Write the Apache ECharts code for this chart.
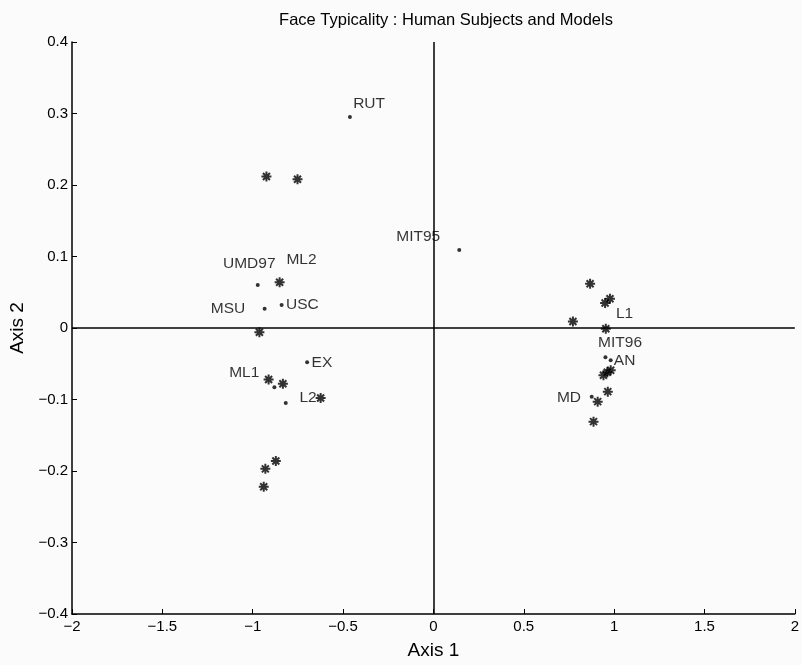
<!DOCTYPE html>
<html>
<head>
<meta charset="utf-8">
<script src="https://cdn.jsdelivr.net/npm/echarts@6/dist/echarts.min.js"></script>
<style>
html,body{margin:0;padding:0;background:#fbfbfb;}
#chart{width:802px;height:665px;}
</style>
</head>
<body>
<div id="chart"></div>
<script>
// Asterisk markers (models / subjects)
const starPoints = [
  [-0.924, 0.212], [-0.752, 0.208], [-0.851, 0.064], [-0.963, -0.006],
  [-0.912, -0.072], [-0.833, -0.078], [-0.624, -0.098], [-0.872, -0.186],
  [-0.930, -0.197], [-0.939, -0.222],
  [0.867, 0.062], [0.977, 0.041], [0.950, 0.035], [0.772, 0.009],
  [0.954, -0.001], [0.941, -0.066], [0.962, -0.062], [0.981, -0.059],
  [0.965, -0.089], [0.909, -0.103], [0.886, -0.131]
];
// Dot markers (algorithms)
const dotPoints = [
  [-0.972, 0.060], [-0.934, 0.027], [-0.840, 0.032], [-0.699, -0.048],
  [-0.880, -0.083], [-0.817, -0.105], [-0.462, 0.295], [0.143, 0.109],
  [0.952, -0.041], [0.981, -0.045], [0.876, -0.096]
];
// Text annotations
const labelNames = ['RUT','MIT95','UMD97','ML2','MSU','USC','EX','ML1','L2','L1','MIT96','AN','MD'];
const labelX = [-0.356, -0.084, -1.019, -0.730, -1.137, -0.725, -0.617, -1.047, -0.694, 1.058, 1.033, 1.058, 0.750];
const labelY = [0.314, 0.128, 0.090, 0.096, 0.027, 0.032, -0.048, -0.063, -0.097, 0.020, -0.021, -0.046, -0.098];

const titleText = 'Face Typicality : Human Subjects and Models';
const xName = 'Axis 1';
const yName = 'Axis 2';

const fontFam = '"Liberation Sans", Arial, Helvetica, sans-serif';
const minusFmt = v => {
  const s = String(Math.round(v * 100) / 100);
  return s.replace('-', '\u2212');
};

const chart = echarts.init(document.getElementById('chart'), null, {renderer: 'canvas'});
const labelData = labelNames.map((n, i) => ({name: n, value: [labelX[i], labelY[i]]}));

chart.setOption({
  backgroundColor: '#fbfbfb',
  animation: false,
  title: {
    text: titleText, left: 441, top: 7, textAlign: 'center',
    textStyle: {fontFamily: fontFam, fontSize: 16.5, fontWeight: 'normal', color: '#000'}
  },
  grid: {left: 72, right: 3, top: 42, bottom: 49},
  xAxis: {
    type: 'value', min: -2, max: 2, interval: 0.5,
    name: xName, nameLocation: 'middle', nameGap: 27,
    nameTextStyle: {fontFamily: fontFam, fontSize: 19, color: '#000'},
    axisLine: {onZero: false, lineStyle: {color: '#000', width: 1.5}},
    axisTick: {inside: true, length: 5, lineStyle: {color: '#000', width: 1}},
    axisLabel: {fontFamily: fontFam, fontSize: 15, color: '#000', margin: 5, formatter: minusFmt},
    splitLine: {show: false}
  },
  yAxis: {
    type: 'value', min: -0.4, max: 0.4, interval: 0.1,
    name: yName, nameLocation: 'middle', nameGap: 43, nameRotate: 90,
    nameTextStyle: {fontFamily: fontFam, fontSize: 19, color: '#000'},
    axisLine: {onZero: false, lineStyle: {color: '#000', width: 1.5}},
    axisTick: {inside: true, length: 5, lineStyle: {color: '#000', width: 1}},
    axisLabel: {fontFamily: fontFam, fontSize: 15, color: '#000', margin: 4, formatter: minusFmt},
    splitLine: {show: false}
  },
  series: [
    {
      type: 'scatter', name: 'cross', data: [],
      markLine: {
        silent: true, symbol: ['none', 'none'], label: {show: false},
        lineStyle: {color: '#000', width: 1.5, type: 'solid'},
        data: [{xAxis: 0}, {yAxis: 0}]
      }
    },
    {
      type: 'scatter', name: 'stars', data: starPoints,
      symbol: 'path://M5,0L5,10M0,5L10,5M1.5,1.5L8.5,8.5M1.5,8.5L8.5,1.5',
      symbolSize: 10,
      itemStyle: {color: '#000', borderColor: '#000', borderWidth: 2}
    },
    {
      type: 'scatter', name: 'dots', data: dotPoints,
      symbol: 'circle', symbolSize: 4,
      itemStyle: {color: '#000'}
    },
    {
      type: 'scatter', name: 'labels', data: labelData,
      symbolSize: 1, itemStyle: {color: 'rgba(0,0,0,0)'},
      label: {
        show: true, position: 'inside', formatter: p => p.name,
        fontFamily: fontFam, fontSize: 15.5, color: '#000'
      }
    }
  ]
});
</script>
</body>
</html>
